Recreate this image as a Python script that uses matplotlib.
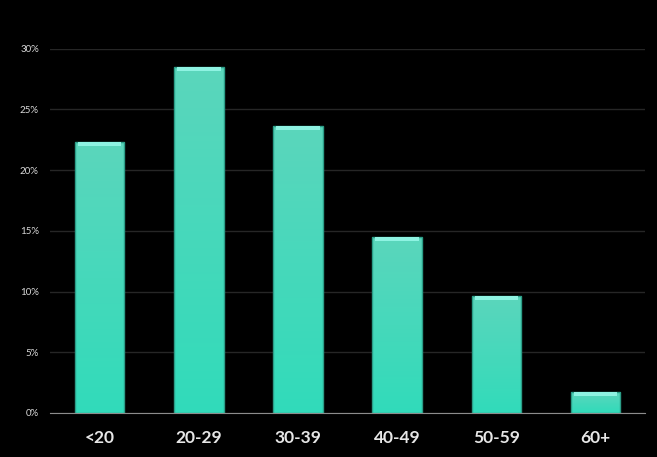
import numpy as np
import matplotlib.pyplot as plt
from matplotlib.colors import LinearSegmentedColormap
from matplotlib.ticker import FuncFormatter

categories = ['<20', '20-29', '30-39', '40-49', '50-59', '60+']
shares = [22.3, 28.5, 23.6, 14.5, 9.6, 1.7]  # percent
yticks = [0, 5, 10, 15, 20, 25, 30]

fig = plt.figure(figsize=(6.57, 4.57), dpi=100, facecolor='black')
ax = fig.add_axes([0.076, 0.0963, 0.906, 0.797], facecolor='black')

x = np.arange(len(categories))
width = 0.5
bars = ax.bar(x, shares, width, color='none', edgecolor='#2b9d87', linewidth=1, zorder=3)

# vertical gradient inside each bar
cmap = LinearSegmentedColormap.from_list('teal', ['#31dbba', '#5bd6bc'])
grad = np.linspace(0, 1, 256).reshape(-1, 1)
for b in bars:
    x0, w, h = b.get_x(), b.get_width(), b.get_height()
    im = ax.imshow(grad, extent=[x0, x0 + w, 0, h], origin='lower', cmap=cmap,
                   aspect='auto', zorder=2)
    im.set_clip_path(b)
    # light bevel at top
    cap = min(0.3, h * 0.2)
    ax.fill_between([x0 + 0.03, x0 + w - 0.03], h - cap, h, color='#8ef3e2', zorder=4, linewidth=0)

ax.set_xlim(-0.5, len(categories) - 0.5)
ax.set_ylim(0, 30)
ax.set_yticks(yticks)
ax.yaxis.set_major_formatter(FuncFormatter(lambda v, p: f'{v:.0f}%'))
ax.set_xticks(x)
ax.set_xticklabels(categories)

ax.grid(axis='y', color='#262626', linewidth=1, zorder=0)
for s in ['top', 'right', 'left']:
    ax.spines[s].set_visible(False)
ax.spines['bottom'].set_color('#8c8c8c')
ax.spines['bottom'].set_zorder(5)

ax.tick_params(axis='y', length=0, labelsize=7, labelcolor='#d9d9d9', pad=8)
ax.tick_params(axis='x', length=0, labelsize=12.5, labelcolor='#e6e6e6', pad=12)
for lbl in ax.get_xticklabels():
    lbl.set_fontweight('bold')
    lbl.set_family('Lato')
for lbl in ax.get_yticklabels():
    lbl.set_family('Lato')

fig.savefig('out.png', dpi=100, facecolor='black')
